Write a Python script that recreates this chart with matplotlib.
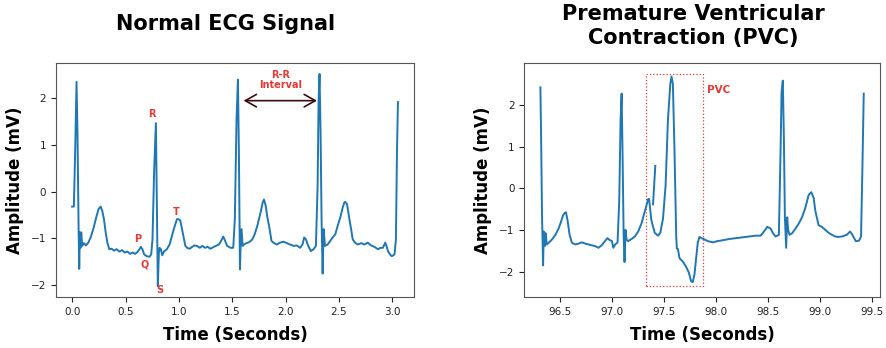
import numpy as np
import matplotlib.pyplot as plt
from matplotlib.patches import Rectangle

# Normal ECG
normal_t = [0.0, 0.016, 0.028, 0.041, 0.050, 0.060, 0.066, 0.072, 0.078, 0.085, 0.094, 0.110,
            0.129, 0.151, 0.173, 0.198, 0.229, 0.248, 0.267, 0.282, 0.298, 0.314, 0.330, 0.348,
            0.370, 0.392, 0.417, 0.443, 0.468, 0.493, 0.518, 0.543, 0.568, 0.590, 0.612, 0.631,
            0.643, 0.659, 0.675, 0.700, 0.725, 0.741, 0.753, 0.769, 0.785, 0.794, 0.803, 0.813,
            0.819, 0.832, 0.844, 0.863, 0.888, 0.913, 0.935, 0.957, 0.982, 0.998, 1.014, 1.039,
            1.061, 1.077, 1.102, 1.124, 1.146, 1.171, 1.196, 1.221, 1.246, 1.271, 1.296, 1.328,
            1.375, 1.397, 1.416, 1.428, 1.453, 1.485, 1.510, 1.525, 1.541, 1.554, 1.563, 1.573,
            1.579, 1.588, 1.598, 1.610, 1.635, 1.660, 1.689, 1.711, 1.736, 1.767, 1.786, 1.798,
            1.814, 1.830, 1.849, 1.868, 1.886, 1.918, 1.949, 1.981, 2.012, 2.043, 2.075, 2.106,
            2.137, 2.159, 2.175, 2.191, 2.213, 2.238, 2.263, 2.285, 2.301, 2.310, 2.319, 2.329,
            2.338, 2.348, 2.357, 2.370, 2.395, 2.420, 2.442, 2.467, 2.489, 2.514, 2.536, 2.552,
            2.561, 2.577, 2.599, 2.615, 2.630, 2.652, 2.677, 2.709, 2.740, 2.771, 2.803, 2.834,
            2.866, 2.891, 2.913, 2.935, 2.947, 2.960, 2.979, 2.997, 3.022, 3.035, 3.045, 3.054]
normal_v = [-0.32, -0.32, 0.85, 2.34, 1.20, -0.73, -1.65, -0.87, -1.20, -0.87, -1.16, -1.10,
            -1.15, -1.09, -0.98, -0.80, -0.52, -0.37, -0.32, -0.41, -0.59, -0.87, -1.09, -1.23,
            -1.22, -1.26, -1.23, -1.28, -1.25, -1.30, -1.28, -1.33, -1.30, -1.33, -1.29, -1.23,
            -1.18, -1.23, -1.34, -1.38, -1.39, -1.34, -1.02, 0.49, 1.46, -0.23, -2.02, -1.30,
            -1.20, -1.23, -1.36, -1.27, -1.23, -1.13, -0.95, -0.77, -0.59, -0.59, -0.62, -0.91,
            -1.16, -1.20, -1.22, -1.18, -1.15, -1.16, -1.20, -1.16, -1.20, -1.18, -1.22, -1.18,
            -1.13, -1.05, -0.96, -1.02, -1.16, -1.20, -1.20, -0.59, 1.56, 2.39, 0.85, -1.66,
            -1.16, -0.80, -1.16, -1.13, -1.10, -1.08, -1.02, -0.91, -0.73, -0.44, -0.23, -0.17,
            -0.30, -0.55, -0.77, -1.05, -1.09, -1.13, -1.09, -1.07, -1.10, -1.13, -1.16, -1.15,
            -1.20, -1.13, -0.98, -1.02, -1.16, -1.27, -1.23, -1.16, 0.13, 1.92, 2.51, 1.20,
            -0.59, -1.75, -0.80, -1.16, -1.13, -1.05, -0.98, -0.91, -0.73, -0.55, -0.34, -0.23,
            -0.22, -0.27, -0.59, -0.80, -1.02, -1.09, -1.13, -1.10, -1.13, -1.09, -1.15, -1.18,
            -1.23, -1.20, -1.20, -1.09, -1.16, -1.27, -1.34, -1.38, -1.34, -1.02, 0.85, 1.91]

# PVC record
pvc_t = [96.315, 96.322, 96.331, 96.341, 96.347, 96.357, 96.366, 96.376, 96.395, 96.427, 96.459,
         96.490, 96.513, 96.532, 96.548, 96.561, 96.576, 96.596, 96.618, 96.650, 96.682, 96.713,
         96.745, 96.777, 96.809, 96.841, 96.873, 96.904, 96.936, 96.959, 96.984, 97.003, 97.016,
         97.035, 97.057, 97.073, 97.086, 97.096, 97.105, 97.115, 97.124, 97.134, 97.143, 97.159,
         97.191, 97.223, 97.255, 97.287, 97.312, 97.334, 97.350, 97.360, 97.382, 97.414, 97.446,
         97.468, 97.494, 97.519, 97.541, 97.564, 97.576, 97.589, 97.605, 97.621, 97.627, 97.637,
         97.653, 97.685, 97.717, 97.742, 97.764, 97.780, 97.796, 97.812, 97.828, 97.844, 97.866,
         97.892, 97.924, 97.971, 98.019, 98.067, 98.131, 98.194, 98.258, 98.322, 98.385, 98.433,
         98.465, 98.497, 98.529, 98.551, 98.576, 98.608, 98.624, 98.634, 98.646, 98.656, 98.666,
         98.678, 98.688, 98.697, 98.710, 98.736, 98.768, 98.799, 98.831, 98.863, 98.895, 98.920,
         98.943, 98.958, 98.990, 99.022, 99.054, 99.086, 99.118, 99.150, 99.181, 99.213, 99.261,
         99.293, 99.315, 99.347, 99.379, 99.398, 99.411, 99.424]
pvc_v = [2.42, 1.23, -0.69, -1.84, -1.03, -1.38, -1.07, -1.34, -1.30, -1.22, -1.11,
         -0.96, -0.80, -0.65, -0.59, -0.57, -0.76, -1.11, -1.30, -1.34, -1.32, -1.29,
         -1.32, -1.34, -1.36, -1.38, -1.42, -1.36, -1.26, -1.19, -1.24, -1.26, -1.42,
         -1.34, -1.29, -0.30, 1.62, 2.27, 0.85, -1.07, -1.76, -0.99, -1.22, -1.26,
         -1.21, -1.15, -1.03, -0.84, -0.61, -0.42, -0.26, -0.25, -0.76, -1.06, -1.13,
         -1.06, -0.72, 0.08, 1.62, 2.50, 2.68, 2.50, 0.85, -1.15, -1.44, -1.45,
         -1.67, -1.75, -1.88, -2.01, -2.22, -2.24, -2.07, -1.69, -1.30, -1.16, -1.19,
         -1.22, -1.26, -1.29, -1.26, -1.24, -1.21, -1.19, -1.17, -1.15, -1.13, -1.13,
         -1.03, -0.92, -0.96, -1.07, -1.15, -1.11, 0.85, 2.31, 2.58, 1.23, -0.69,
         -1.42, -0.69, -0.99, -1.11, -1.07, -0.96, -0.84, -0.69, -0.46, -0.15, -0.09,
         -0.23, -0.53, -0.88, -0.92, -0.99, -1.06, -1.11, -1.15, -1.16, -1.15, -1.11,
         -1.03, -1.11, -1.26, -1.25, -1.15, 0.46, 2.27]
# short detached stroke inside the PVC box
frag_t = [97.398, 97.420]
frag_v = [-0.38, 0.54]

# labels on the normal beat
wave_labels = ['R', 'P', 'Q', 'S', 'T']
wave_t = [0.747, 0.612, 0.678, 0.825, 0.976]
wave_v = [1.65, -1.02, -1.56, -2.11, -0.44]

rr_start, rr_end, rr_level = 1.607, 2.295, 1.94
pvc_box = (97.333, 97.88, -2.34, 2.74)  # t0, t1, v0, v1

red = '#e53935'
blue = '#1f77b4'

fig = plt.figure(figsize=(8.87, 3.48), dpi=100)
ax1 = fig.add_axes([0.063, 0.147, 0.404, 0.671])
ax2 = fig.add_axes([0.591, 0.147, 0.401, 0.671])

# --- left: normal
ax1.plot(normal_t, normal_v, color=blue, lw=1.4)
for lab, x, y in zip(wave_labels, wave_t, wave_v):
    ax1.text(x, y, lab, color=red, fontsize=7, fontweight='bold', ha='center', va='center')
ax1.annotate('', xy=(rr_end, rr_level), xytext=(rr_start, rr_level),
             arrowprops=dict(arrowstyle='<->,head_length=0.8,head_width=0.45',
                             color='#3d0a0a', lw=1.2, shrinkA=0, shrinkB=0))
ax1.text((rr_start + rr_end) / 2, rr_level + 0.44, 'R-R\nInterval', color=red,
         fontsize=7, fontweight='bold', ha='center', va='center', linespacing=1.1)

# --- right: PVC
ax2.plot(pvc_t, pvc_v, color=blue, lw=1.4)
ax2.plot(frag_t, frag_v, color=blue, lw=1.4)
t0, t1, v0, v1 = pvc_box
ax2.add_patch(Rectangle((t0, v0), t1 - t0, v1 - v0, fill=False, edgecolor=red,
                        linestyle=':', lw=0.9))
ax2.text(t1 + 0.04, 2.36, 'PVC', color=red, fontsize=7.5, fontweight='bold',
         ha='left', va='center')

for ax in (ax1, ax2):
    ax.set_xlabel('Time (Seconds)', fontsize=12, fontweight='bold', labelpad=7)
    ax.set_ylabel('Amplitude (mV)', fontsize=12, fontweight='bold', labelpad=5)
    ax.tick_params(labelsize=7.5, colors='#222222')
    ax.set_yticks([-2, -1, 0, 1, 2])
    for s in ax.spines.values():
        s.set_color('#555555')

ax1.set_xticks([0.0, 0.5, 1.0, 1.5, 2.0, 2.5, 3.0])
ax2.set_xticks([96.5, 97.0, 97.5, 98.0, 98.5, 99.0, 99.5])

fig.text(0.254, 0.93, 'Normal ECG Signal', fontsize=15, fontweight='bold',
         ha='center', va='center')
fig.text(0.782, 0.925, 'Premature Ventricular\nContraction (PVC)', fontsize=15,
         fontweight='bold', ha='center', va='center', linespacing=1.2)

fig.savefig('out.png', dpi=100)
